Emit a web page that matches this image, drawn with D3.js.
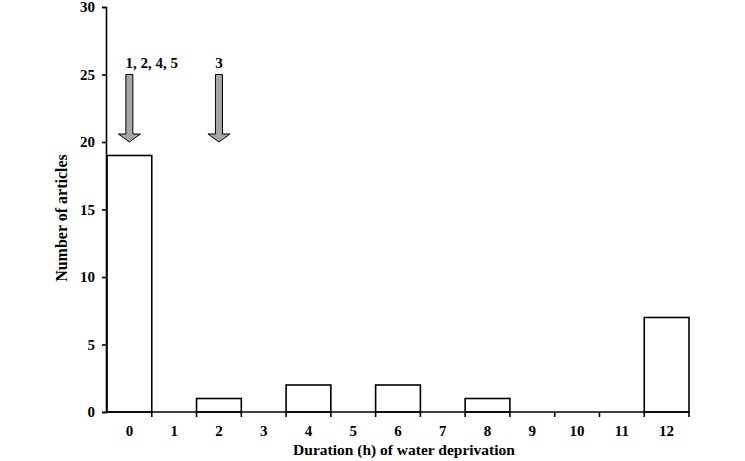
<!DOCTYPE html>
<html>
<head>
<meta charset="utf-8">
<script src="https://cdn.jsdelivr.net/npm/d3@7"></script>
<style>
  body { margin: 0; background: #fff; }
  text { font-family: "Liberation Serif", "Times New Roman", serif; font-weight: bold; }
</style>
</head>
<body>
<script>
var durations = [0, 1, 2, 3, 4, 5, 6, 7, 8, 9, 10, 11, 12];
var articles = [19, 0, 1, 0, 2, 0, 2, 0, 1, 0, 0, 0, 7];
var yTicks = [0, 5, 10, 15, 20, 25, 30];
var arrowAt = [0, 2];
var arrowLabels = ["1, 2, 4, 5", "3"];
var arrowFrom = 25, arrowTo = 20;

var width = 745, height = 461;
var margin = {top: 7, right: 56, bottom: 49, left: 106};

var svg = d3.select("body")
    .append("svg")
    .attr("width", width)
    .attr("height", height);

var x = d3.scaleBand()
    .domain(durations)
    .range([margin.left + 1, width - margin.right])
    .padding(0);

var y = d3.scaleLinear()
    .domain([0, 30])
    .range([height - margin.bottom, margin.top]);

// bars
svg.append("g")
    .selectAll("rect")
    .data(durations.map((d, i) => ({d: d, v: articles[i]})).filter(d => d.v > 0))
    .join("rect")
    .attr("x", d => x(d.d))
    .attr("y", d => y(d.v))
    .attr("width", x.bandwidth())
    .attr("height", d => y(0) - y(d.v))
    .attr("fill", "#fff")
    .attr("stroke", "#000")
    .attr("stroke-width", 1.6);

// x axis: ticks at band edges
var xg = svg.append("g")
    .attr("transform", "translate(0," + y(0) + ")");
xg.append("line")
    .attr("x1", margin.left).attr("x2", x.range()[1])
    .attr("stroke", "#000").attr("stroke-width", 1.6);
xg.selectAll("line.tick")
    .data(durations)
    .join("line")
    .attr("class", "tick")
    .attr("x1", d => x(d) + x.bandwidth())
    .attr("x2", d => x(d) + x.bandwidth())
    .attr("y1", 0).attr("y2", 5)
    .attr("stroke", "#000").attr("stroke-width", 1.6);
xg.selectAll("text")
    .data(durations)
    .join("text")
    .attr("x", d => x(d) + x.bandwidth() / 2)
    .attr("y", 24)
    .attr("text-anchor", "middle")
    .style("font-size", "15px")
    .text(d => d);

// y axis
svg.append("g")
    .attr("transform", "translate(" + margin.left + ",0)")
    .call(d3.axisLeft(y).tickValues(yTicks).tickSize(4).tickPadding(7))
    .call(g => g.select(".domain").attr("stroke-width", 1.6))
    .call(g => g.selectAll(".tick line").attr("stroke-width", 1.6))
    .call(g => g.selectAll(".tick text")
        .style("font-size", "15px")
        .style("font-family", "Liberation Serif, serif")
        .style("font-weight", "bold"));

// axis titles
svg.append("text")
    .attr("x", 404)
    .attr("y", 455)
    .attr("text-anchor", "middle")
    .style("font-size", "15.5px")
    .text("Duration (h) of water deprivation");

svg.append("text")
    .attr("transform", "translate(67,218) rotate(-90)")
    .attr("text-anchor", "middle")
    .style("font-size", "16px")
    .text("Number of articles");

// arrows
var shaftW = 7, headW = 22, headH = 8;
var arrows = svg.append("g");
arrowAt.forEach(function (d, i) {
    var cx = x(d) + x.bandwidth() / 2;
    var top = y(arrowFrom), tip = y(arrowTo);
    var hb = tip - headH;
    var pts = [
        [cx - shaftW / 2, top], [cx + shaftW / 2, top], [cx + shaftW / 2, hb],
        [cx + headW / 2, hb], [cx, tip], [cx - headW / 2, hb], [cx - shaftW / 2, hb]
    ];
    arrows.append("path")
        .attr("d", "M" + pts.map(p => p.join(",")).join("L") + "Z")
        .attr("fill", "#a6a6a6")
        .attr("stroke", "#000")
        .attr("stroke-width", 1);
    arrows.append("text")
        .attr("x", i == 0 ? cx - 4 : cx)
        .attr("y", top - 7)
        .attr("text-anchor", i == 0 ? "start" : "middle")
        .style("font-size", "15px")
        .text(arrowLabels[i]);
});
</script>
</body>
</html>
